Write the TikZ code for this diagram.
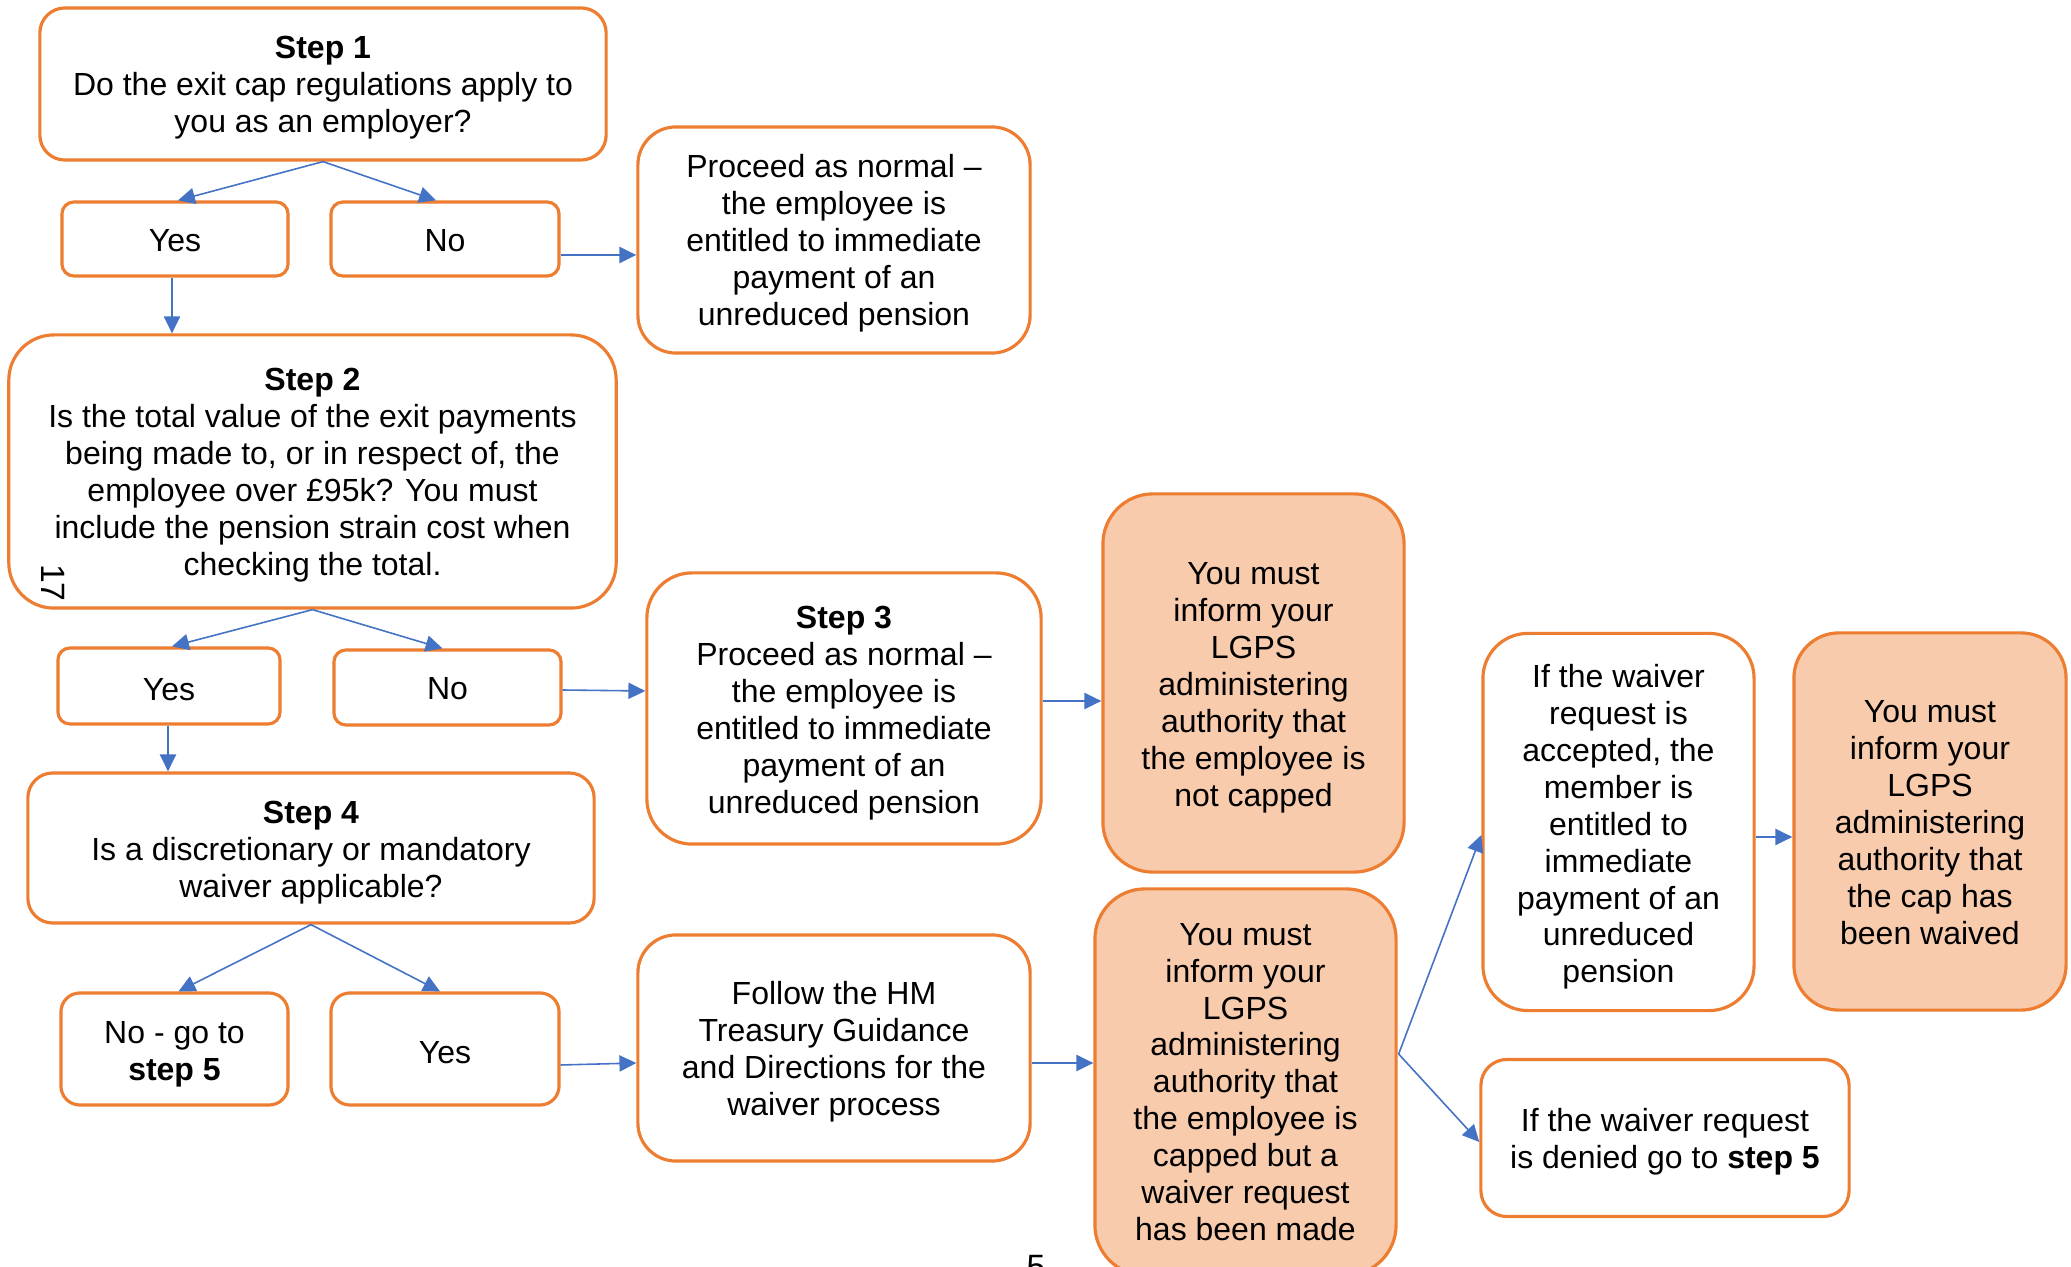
\documentclass[tikz,border=0pt]{standalone}
\usepackage{fontspec}
\setmainfont{Liberation Sans}
\usetikzlibrary{arrows.meta,calc}
\definecolor{orgline}{HTML}{ED7D31}
\definecolor{peach}{HTML}{F8CBAD}
\definecolor{arrblue}{HTML}{4472C4}
\tikzset{
  box/.style={draw=orgline, line width=0.9pt, fill=white, inner sep=0pt},
  fbox/.style={box, fill=peach},
  txt/.style={align=center, inner sep=0pt, font=\fontsize{9.1}{10.5}\selectfont, yshift=-1pt},
  arr/.style={draw=arrblue, line width=0.45pt, -{Triangle[length=4.8pt,width=4.6pt]}},
  pagenum/.style={font=\fontsize{9.6}{11}\selectfont, inner sep=0pt}
}
\begin{document}
\begin{tikzpicture}[x=0.01cm,y=-0.01cm]
\useasboundingbox (0,0) rectangle (2071,1267);
% nodes
\node[box, minimum width=5.66cm, minimum height=1.52cm, rounded corners=0.25cm,
  label={[txt]center:{\textbf{Step 1}\\Do the exit cap regulations apply to\\you as an employer?}}] (s1) at (323,84) {};
\node[box, minimum width=2.26cm, minimum height=0.74cm, rounded corners=0.12cm,
  label={[txt,yshift=0.6pt]center:{Yes}}] (y1) at (175,239) {};
\node[box, minimum width=2.28cm, minimum height=0.74cm, rounded corners=0.12cm,
  label={[txt,yshift=0.6pt]center:{No}}] (n1) at (445,239) {};
\node[box, minimum width=3.92cm, minimum height=2.26cm, rounded corners=0.38cm,
  label={[txt]center:{Proceed as normal –\\the employee is\\entitled to immediate\\payment of an\\unreduced pension}}] (p1) at (834,240) {};
\node[box, minimum width=6.07cm, minimum height=2.73cm, rounded corners=0.45cm,
  label={[txt]center:{\textbf{Step 2}\\Is the total value of the exit payments\\being made to, or in respect of, the\\employee over £95k? You must\\include the pension strain cost when\\checking the total.}}] (s2) at (312.5,471.5) {};
\node[box, minimum width=2.22cm, minimum height=0.76cm, rounded corners=0.12cm,
  label={[txt]center:{Yes}}] (y2) at (169,686) {};
\node[box, minimum width=2.27cm, minimum height=0.75cm, rounded corners=0.12cm,
  label={[txt,yshift=0.6pt]center:{No}}] (n2) at (447.5,687.5) {};
\node[box, minimum width=3.94cm, minimum height=2.71cm, rounded corners=0.45cm,
  label={[txt,yshift=-0.4pt]center:{\textbf{Step 3}\\Proceed as normal –\\the employee is\\entitled to immediate\\payment of an\\unreduced pension}}] (s3) at (844,708.5) {};
\node[fbox, minimum width=3.01cm, minimum height=3.78cm, rounded corners=0.5cm,
  label={[txt,yshift=-0.4pt]center:{You must\\inform your\\LGPS\\administering\\authority that\\the employee is\\not capped}}] (nc) at (1253.5,683) {};
\node[box, minimum width=5.66cm, minimum height=1.50cm, rounded corners=0.25cm,
  label={[txt,yshift=-0.4pt]center:{\textbf{Step 4}\\Is a discretionary or mandatory\\waiver applicable?}}] (s4) at (311,848) {};
\node[box, minimum width=2.27cm, minimum height=1.12cm, rounded corners=0.19cm,
  label={[txt,yshift=-0.4pt]center:{No - go to\\\textbf{step 5}}}] (ng) at (174.5,1049) {};
\node[box, minimum width=2.28cm, minimum height=1.12cm, rounded corners=0.19cm,
  label={[txt]center:{Yes}}] (y4) at (445,1049) {};
\node[box, minimum width=3.92cm, minimum height=2.26cm, rounded corners=0.38cm,
  label={[txt]center:{Follow the HM\\Treasury Guidance\\and Directions for the\\waiver process}}] (fo) at (834,1048) {};
\node[fbox, minimum width=3.01cm, minimum height=3.86cm, rounded corners=0.5cm,
  label={[txt,yshift=1pt]center:{You must\\inform your\\LGPS\\administering\\authority that\\the employee is\\capped but a\\waiver request\\has been made}}] (cp) at (1245.5,1082) {};
\node[box, minimum width=2.71cm, minimum height=3.77cm, rounded corners=0.45cm,
  label={[txt,yshift=-0.4pt]center:{If the waiver\\request is\\accepted, the\\member is\\entitled to\\immediate\\payment of an\\unreduced\\pension}}] (ac) at (1618.5,822) {};
\node[fbox, minimum width=2.72cm, minimum height=3.77cm, rounded corners=0.45cm,
  label={[txt,yshift=0.6pt]center:{You must\\inform your\\LGPS\\administering\\authority that\\the cap has\\been waived}}] (wv) at (1930,821.5) {};
\node[box, minimum width=3.68cm, minimum height=1.57cm, rounded corners=0.26cm,
  label={[txt]center:{If the waiver request\\is denied go to \textbf{step 5}}}] (dn) at (1665,1138) {};
\node[pagenum, rotate=-90] (pg17) at (53,583) {17};
\node[pagenum, anchor=base] (pg5) at (1036,1279) {5};
% connectors
\draw[arr] (s1.south) -- ($(y1.north)+(3,0)$);
\draw[arr] (s1.south) -- ($(n1.north)+(-9,0)$);
\draw[arr] ($(y1.south)+(-3,0)$) -- ($(s2.north -| y1.south)+(-3,0)$);
\draw[arr] ($(n1.east)+(0,16)$) -- ($(p1.west)+(0,15)$);
\draw[arr] (s2.south) -- ($(y2.north)+(3,0)$);
\draw[arr] (s2.south) -- ($(n2.north)+(-5,0)$);
\draw[arr] ($(n2.east)+(0,2.5)$) -- ($(s3.west)+(0,-17.5)$);
\draw[arr] ($(y2.south)+(-1,0)$) -- ($(s4.north -| y2.south)+(-1,0)$);
\draw[arr] ($(s3.east)+(0,-7.5)$) -- ($(nc.west)+(0,18)$);
\draw[arr] (s4.south) -- ($(ng.north)+(4,0)$);
\draw[arr] (s4.south) -- ($(y4.north)+(-5,0)$);
\draw[arr] ($(y4.east)+(0,16)$) -- ($(fo.west)+(0,15)$);
\draw[arr] ($(fo.east)+(0,15)$) -- ($(cp.west)+(0,-19)$);
\coordinate (cpout) at ($(cp.east)+(1,-28)$);
\draw[arr] (cpout) -- ($(ac.west)+(0,13)$);
\draw[arr] (cpout) -- ($(dn.west)+(0,4)$);
\draw[arr] ($(ac.east)+(0,15)$) -- ($(wv.west)+(0,15.5)$);
\end{tikzpicture}
\end{document}
